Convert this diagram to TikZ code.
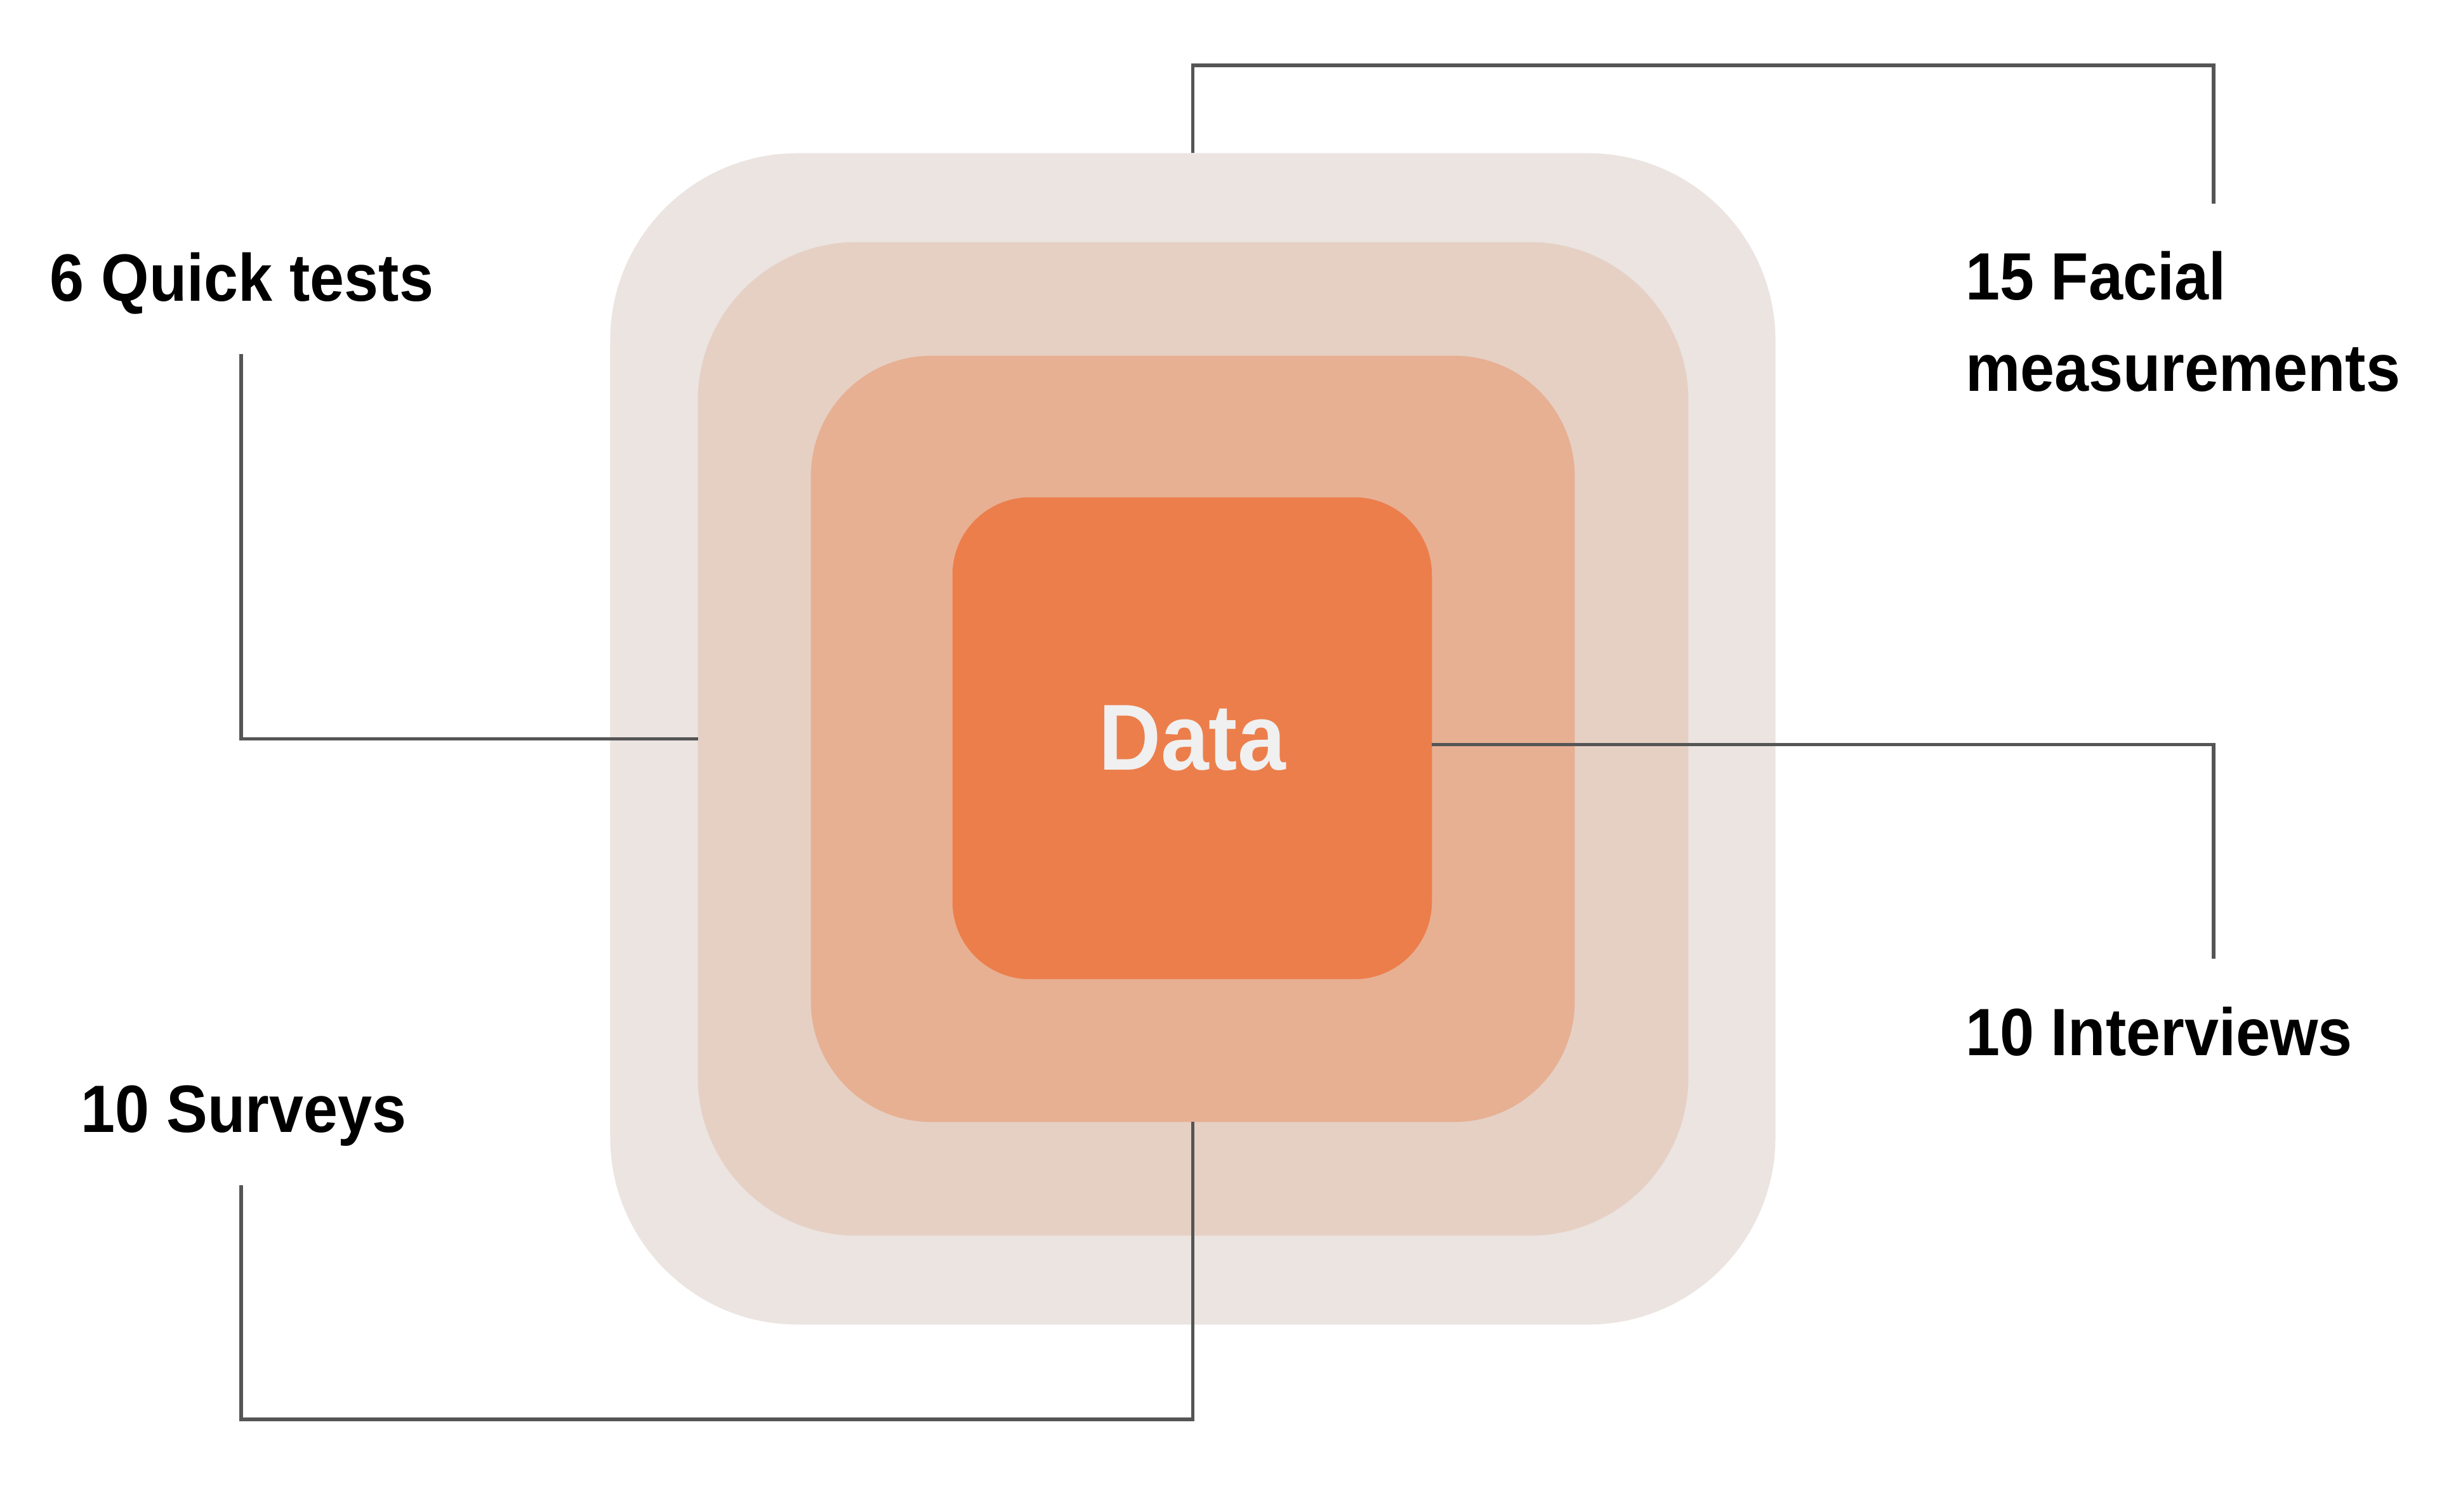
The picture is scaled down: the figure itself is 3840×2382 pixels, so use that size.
\documentclass[tikz,border=0pt]{standalone}
\usepackage{fontspec}
\usepackage{xcolor}
\usepackage{tikz}
\usetikzlibrary{positioning, calc}
\newfontfamily\labelfont[FakeStretch=0.92]{Liberation Sans}
\definecolor{ringA}{HTML}{EBE4E1}
\definecolor{ringB}{HTML}{E6D0C4}
\definecolor{ringC}{HTML}{E7B093}
\definecolor{core}{HTML}{EC7E4B}
\definecolor{wire}{HTML}{555555}
\definecolor{coretext}{HTML}{F0F0F0}

\begin{document}
\begin{tikzpicture}[x=0.01cm, y=-0.01cm,
          layer/.style={rectangle, draw=none, inner sep=0pt, outer sep=0pt},
          link/.style={draw=wire, line width=1.6pt},
          label/.style={inner sep=0pt, outer sep=0pt, font=\labelfont\bfseries\fontsize{30}{41}\selectfont}]
          \useasboundingbox (0,0) rectangle (3840,2382);

          % nested rounded squares
          \node[layer, fill=ringA, rounded corners=2.95cm, minimum width=18.35cm, minimum height=18.45cm] (outer) at (1879.5,1164.5) {};
          \node[layer, fill=ringB, rounded corners=2.5cm, minimum width=15.6cm, minimum height=15.65cm] (mid) at (1880,1164.5) {};
          \node[layer, fill=ringC, rounded corners=1.9cm, minimum width=12.03cm, minimum height=12.07cm] (inner) at (1879.5,1164.5) {};
          \node[layer, fill=core, rounded corners=1.22cm, minimum width=7.55cm, minimum height=7.59cm] (core) at (1878.5,1163.5) {};
          \node[text=coretext, font=\labelfont\bfseries\fontsize{42}{50}\selectfont] (data) at (core.center) {Data};

          % labels
          \node[label, anchor=base] (quick) at (381,474) {6 Quick tests};
          \node[label, anchor=base] (surveys) at (384,1784) {10 Surveys};
          \node[label, anchor=north west, align=left] (facial) at (3097,396) {15 Facial\\measurements};
          \node[label, anchor=base west] (interviews) at (3097,1663) {10 Interviews};

          % free ends of the connectors
          \coordinate (facialend) at (3488,321);
          \coordinate (topbend) at (1879.5,103);
          \coordinate (quickend) at (380,558);
          \coordinate (interend) at (3488,1511);
          \coordinate (survbend) at (380,2237);
          \coordinate (survend) at (380,1868);

          \draw[link] (outer.north) -- (topbend) -| (facialend);
          \draw[link] (mid.west) -| (quickend);
          \draw[link] ([yshift=-0.1cm]core.east) -| (interend);
          \draw[link] (inner.south) |- (survbend) -- (survend);
        \end{tikzpicture}
\end{document}
